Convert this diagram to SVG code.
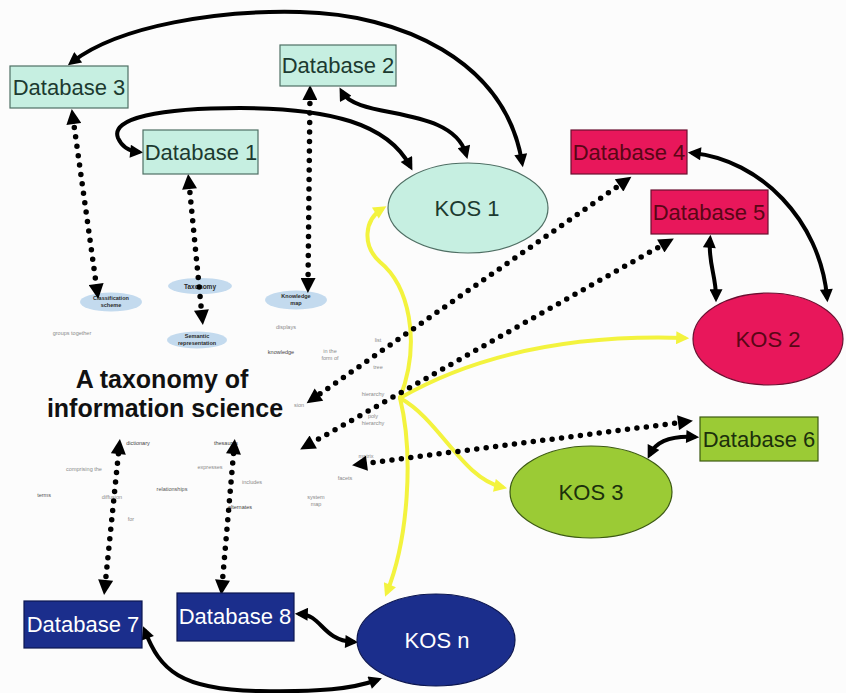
<svg xmlns="http://www.w3.org/2000/svg" width="846" height="693" viewBox="0 0 846 693">
  <defs>
    <style>
      .db { stroke-width: 1.2; }
      .aqua { fill: #c6efe1; stroke: #4f6f64; }
      .red { fill: #e8175b; stroke: #6a1030; }
      .green { fill: #9bcb35; stroke: #3c5a12; }
      .navy { fill: #1b2e8c; stroke: #0c1650; }
      .lbl { font-family: "Liberation Sans", Arial, sans-serif; font-size: 22px; text-anchor: middle; }
      .t-aqua { fill: #1c3a30; }
      .t-red { fill: #5a0616; }
      .t-green { fill: #1c300c; }
      .t-navy { fill: #ffffff; }
      .solid { fill: none; stroke: #000; stroke-width: 4; stroke-linecap: round; marker-start: url(#ah); marker-end: url(#ah); }
      .dots { fill: none; stroke: #000; stroke-width: 5.5; stroke-linecap: round; stroke-dasharray: 0 9.5; marker-start: url(#dh); marker-end: url(#dh); }
      .yel { fill: none; stroke: #f3f33e; stroke-width: 4; stroke-linecap: round; marker-end: url(#yh); }
      .mini { font-family: "Liberation Sans", Arial, sans-serif; font-size: 5.5px; fill: #8a8a8a; text-anchor: middle; }
      .minid { font-family: "Liberation Sans", Arial, sans-serif; font-size: 5.5px; fill: #2a2a2a; font-weight: bold; text-anchor: middle; }
      .cell { fill: #c3daee; stroke: none; }
      .title { font-family: "Liberation Sans", Arial, sans-serif; font-size: 25px; font-weight: bold; fill: #111; text-anchor: middle; }
    </style>
    <marker id="ah" viewBox="0 0 10 10" refX="6" refY="5" markerWidth="16" markerHeight="13" markerUnits="userSpaceOnUse" orient="auto-start-reverse">
      <path d="M0,0 L10,5 L0,10 z" fill="#000"/>
    </marker>
    <marker id="dh" viewBox="0 0 10 10" refX="4" refY="5" markerWidth="16" markerHeight="15" markerUnits="userSpaceOnUse" orient="auto-start-reverse">
      <path d="M0,0 L10,5 L0,10 z" fill="#000"/>
    </marker>
    <marker id="yh" viewBox="0 0 10 10" refX="6" refY="5" markerWidth="16" markerHeight="13" markerUnits="userSpaceOnUse" orient="auto">
      <path d="M0,0 L10,5 L0,10 z" fill="#f3f33e"/>
    </marker>
  </defs>

  <rect x="0" y="0" width="846" height="693" fill="#fcfcfc"/>

  <!-- embedded concept map: small cells and link words -->
  <g id="concept-map">
    <ellipse class="cell" cx="111" cy="302" rx="31" ry="9.5"/>
    <text class="minid" x="111" y="300">Classification</text>
    <text class="minid" x="111" y="307">scheme</text>
    <ellipse class="cell" cx="200" cy="286" rx="32" ry="8"/>
    <text class="minid" x="200" y="288.5" style="font-size:6.5px">Taxonomy</text>
    <ellipse class="cell" cx="296" cy="300" rx="31" ry="9.5"/>
    <text class="minid" x="296" y="298">Knowledge</text>
    <text class="minid" x="296" y="305">map</text>
    <ellipse class="cell" cx="197" cy="340" rx="30" ry="8.5"/>
    <text class="minid" x="197" y="338">Semantic</text>
    <text class="minid" x="197" y="345">representation</text>

    <text class="mini" x="72" y="335">groups together</text>
    <text class="mini" x="286" y="329">displays</text>
    <text class="minid" x="281" y="354" style="font-weight:normal;fill:#444">knowledge</text>
    <text class="mini" x="330" y="353">in the</text>
    <text class="mini" x="330" y="360">form of</text>
    <text class="mini" x="378" y="342">list</text>
    <text class="mini" x="378" y="369">tree</text>
    <text class="mini" x="373" y="396">hierarchy</text>
    <text class="mini" x="373" y="418">poly</text>
    <text class="mini" x="373" y="425">hierarchy</text>
    <text class="mini" x="366" y="458">matrix</text>
    <text class="mini" x="345" y="480">facets</text>
    <text class="mini" x="316" y="499">system</text>
    <text class="mini" x="316" y="506">map</text>
    <text class="mini" x="299" y="407">sion</text>
    <text class="mini" x="226" y="445" style="fill:#444">thesaurus</text>
    <text class="mini" x="210" y="469">expresses</text>
    <text class="mini" x="252" y="484">includes</text>
    <text class="mini" x="240" y="509" style="fill:#444">alternates</text>
    <text class="mini" x="172" y="491" style="fill:#555">relationships</text>
    <text class="mini" x="138" y="445" style="fill:#444">dictionary</text>
    <text class="mini" x="84" y="471">comprising the</text>
    <text class="mini" x="44" y="497" style="fill:#555">terms</text>
    <text class="mini" x="112" y="499">diffusion</text>
    <text class="mini" x="131" y="521">for</text>

    <text class="title" x="162" y="388">A taxonomy of</text>
    <text class="title" x="165" y="417">information science</text>
  </g>

  <!-- connectors -->
  <g id="connectors">
    <!-- yellow links from the hierarchy hub to each KOS -->
    <path class="yel" d="M400,398 C422,340 408,285 380,262 C362,246 364,220 382,209"/>
    <path class="yel" d="M400,398 C470,358 560,334 684,338"/>
    <path class="yel" d="M400,398 C440,420 462,478 502,487"/>
    <path class="yel" d="M400,398 C414,455 408,540 387,592"/>

    <!-- dotted links between databases and concepts -->
    <path class="dots" d="M73,118 L97,290"/>
    <path class="dots" d="M189,183 L202,316"/>
    <path class="dots" d="M310,94 L308,284"/>
    <path class="dots" d="M624,182 L314,398"/>
    <path class="dots" d="M666,243 L308,445"/>
    <path class="dots" d="M684,422 L361,464"/>
    <path class="dots" d="M105,586 L119,448"/>
    <path class="dots" d="M222,586 L234,448"/>

    <!-- solid links between databases and KOS -->
    <path class="solid" d="M72,62 C120,25 220,10 300,12 C400,14 505,60 522,162"/>
    <path class="solid" d="M410,166 C388,124 330,108 240,108 C160,108 110,118 118,138 C122,147 128,151 138,152"/>
    <path class="solid" d="M342,92 C357,120 452,105 466,154"/>
    <path class="solid" d="M693,153 C760,160 820,220 827,297"/>
    <path class="solid" d="M710,240 C708,262 716,276 716,297"/>
    <path class="solid" d="M650,454 C657,440 675,436 694,437"/>
    <path class="solid" d="M300,614 C322,615 322,640 353,642"/>
    <path class="solid" d="M145,631 C160,670 180,690 260,691 C320,692 352,689 377,680"/>
  </g>

  <!-- aqua group -->
  <g id="database-3">
    <rect class="db aqua" x="10" y="66" width="118" height="42"/>
    <text class="lbl t-aqua" x="69" y="95">Database 3</text>
  </g>
  <g id="database-2">
    <rect class="db aqua" x="280" y="45" width="116" height="41"/>
    <text class="lbl t-aqua" x="338" y="73">Database 2</text>
  </g>
  <g id="database-1">
    <rect class="db aqua" x="143" y="130" width="115" height="44"/>
    <text class="lbl t-aqua" x="201" y="160">Database 1</text>
  </g>
  <g id="kos-1">
    <ellipse class="db aqua" cx="468" cy="208" rx="80" ry="45"/>
    <text class="lbl t-aqua" x="467" y="216">KOS 1</text>
  </g>

  <!-- red group -->
  <g id="database-4">
    <rect class="db red" x="571" y="130" width="116" height="44"/>
    <text class="lbl t-red" x="629" y="160">Database 4</text>
  </g>
  <g id="database-5">
    <rect class="db red" x="651" y="190" width="117" height="44"/>
    <text class="lbl t-red" x="709" y="220">Database 5</text>
  </g>
  <g id="kos-2">
    <ellipse class="db red" cx="768" cy="339" rx="75" ry="46"/>
    <text class="lbl t-red" x="768" y="347">KOS 2</text>
  </g>

  <!-- green group -->
  <g id="database-6">
    <rect class="db green" x="700" y="417" width="118" height="44"/>
    <text class="lbl t-green" x="759" y="447">Database 6</text>
  </g>
  <g id="kos-3">
    <ellipse class="db green" cx="591" cy="492" rx="81" ry="46"/>
    <text class="lbl t-green" x="591" y="500">KOS 3</text>
  </g>

  <!-- navy group -->
  <g id="database-7">
    <rect class="db navy" x="24" y="601" width="118" height="47"/>
    <text class="lbl t-navy" x="83" y="632">Database 7</text>
  </g>
  <g id="database-8">
    <rect class="db navy" x="177" y="593" width="117" height="48"/>
    <text class="lbl t-navy" x="235" y="624">Database 8</text>
  </g>
  <g id="kos-n">
    <ellipse class="db navy" cx="436" cy="640" rx="79" ry="46"/>
    <text class="lbl t-navy" x="437" y="648">KOS n</text>
  </g>
</svg>
